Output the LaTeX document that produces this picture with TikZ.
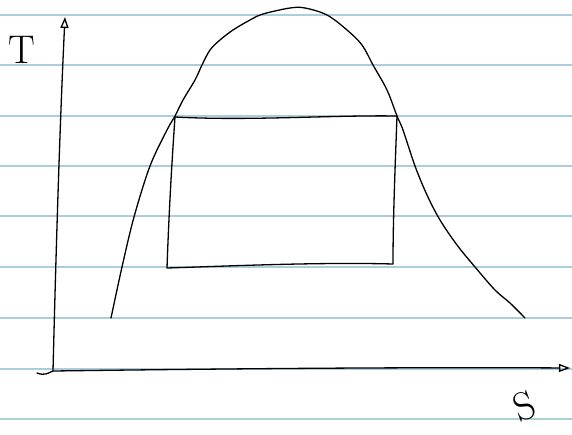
\documentclass[tikz,border=0pt]{standalone}
\usepackage{tikz}
\usetikzlibrary{arrows.meta, positioning}
\definecolor{paperblue}{RGB}{172,206,218}

\begin{document}
\begin{tikzpicture}[
  x=1pt, y=-1pt,
  paper/.style={draw=paperblue, line width=1.8pt},
  sketch/.style={draw=black, line width=1.3pt, line cap=round, line join=round},
  axis/.style={sketch, -{Triangle[open, length=11pt, width=8pt, line width=1.3pt]}},
  hand/.style={font=\fontsize{40}{40}\selectfont, inner sep=0pt}
]
  \useasboundingbox (0,0) rectangle (572,434);

  % ruled paper
  \foreach \yy in {15,65,116,166,216,267,318,369,419}
    \draw[paper] (0,\yy) -- (572,\yy);

  % axes
  \coordinate (O) at (53,371);
  \coordinate (Ttop) at (65,17);
  \coordinate (Send) at (570,368);
  \draw[axis] (O) .. controls (56,250) and (60,120) .. (Ttop);
  \draw[axis] (37,373) .. controls (45,376) and (48,373) .. (O)
    .. controls (200,369) and (400,367) .. (Send);

  \node[hand] (T) at (22,50) {T};
  \node[hand, rotate=20] (S) at (524,406) {S};

  % saturation dome
  \draw[sketch] plot[smooth, tension=0.55] coordinates {
    (111,318) (122,267) (134,217) (150,166) (167,130) (175,116)
    (183,100) (195,80) (202,65) (210,50) (220,40) (233,30) (250,20)
    (263,14) (290,8) (305,8) (327,15) (347,30) (362,45) (373,65)
    (387,90) (397,116) (403,130) (415,166) (427,195) (440,220)
    (457,245) (475,267) (495,290) (510,303) (525,318)};

  % cycle
  \coordinate (A) at (175,117);
  \coordinate (B) at (397,116);
  \coordinate (C) at (393,264);
  \coordinate (D) at (167,268);
  \draw[sketch] (A) .. controls (250,121) and (330,115) .. (B)
    .. controls (395,170) and (393,220) .. (C)
    .. controls (320,262) and (230,266) .. (D)
    .. controls (169,210) and (172,160) .. (A);
\end{tikzpicture}
\end{document}
